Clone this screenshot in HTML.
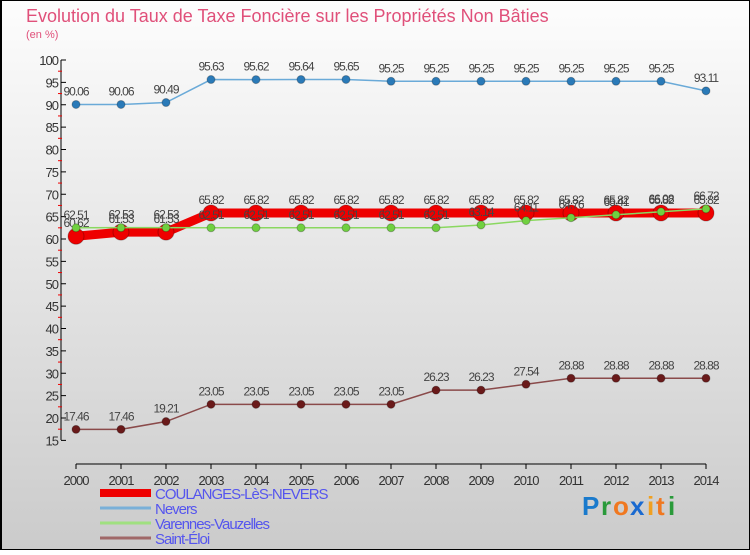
<!DOCTYPE html>
<html><head><meta charset="utf-8"><style>
body{margin:0;width:750px;height:550px;overflow:hidden;font-family:"Liberation Sans",sans-serif}
svg text{font-family:"Liberation Sans",sans-serif}
</style></head><body>
<svg id="c" width="750" height="550" xmlns="http://www.w3.org/2000/svg">
<defs><linearGradient id="bg" x1="0" y1="0" x2="0" y2="1"><stop offset="0" stop-color="#fdfdfd"/><stop offset="1" stop-color="#cbcbcb"/></linearGradient></defs>
<rect x="0.5" y="0.5" width="749" height="549" fill="url(#bg)" stroke="#000" stroke-width="1"/>
<line x1="1" y1="0" x2="1" y2="550" stroke="#000" stroke-width="2"/>
<text x="26" y="22" font-size="18" fill="#e0507a">Evolution du Taux de Taxe Foncière sur les Propriétés Non Bâties</text>
<text x="26" y="38" font-size="11" fill="#e0507a">(en %)</text>
<g id="axes"></g><g id="series"></g><g id="legend"></g>
<g font-size="26" font-weight="bold">
<text x="582" y="515" fill="#1a7acc">P</text><text x="601" y="515" fill="#2a9a3a">r</text><text x="613" y="515" fill="#f07820">o</text><text x="630" y="515" fill="#1a6ad0">x</text><text x="647" y="515" fill="#f0a020">i</text><text x="656" y="515" fill="#f07820">t</text><text x="668" y="515" fill="#2a9a3a">i</text>
</g>
</svg>
<script>
const years=[2000,2001,2002,2003,2004,2005,2006,2007,2008,2009,2010,2011,2012,2013,2014];
const coulanges=[60.62,61.53,61.53,65.82,65.82,65.82,65.82,65.82,65.82,65.82,65.82,65.82,65.82,65.82,65.82];
const nevers=[90.06,90.06,90.49,95.63,95.62,95.64,95.65,95.25,95.25,95.25,95.25,95.25,95.25,95.25,93.11];
const varennes=[62.51,62.53,62.53,62.51,62.51,62.51,62.51,62.51,62.51,63.14,64.11,64.76,65.41,66.08,66.72];
const saintEloi=[17.46,17.46,19.21,23.05,23.05,23.05,23.05,23.05,26.23,26.23,27.54,28.88,28.88,28.88,28.88];
const yTicks=[15,20,25,30,35,40,45,50,55,60,65,70,75,80,85,90,95,100];
const NS="http://www.w3.org/2000/svg";
const X=i=>76+i*45, Y=v=>60+(100-v)*4.475;
function el(p,t,a){const e=document.createElementNS(NS,t);for(const k in a)e.setAttribute(k,a[k]);p.appendChild(e);return e;}
const ax=document.getElementById('axes');
el(ax,'line',{x1:61,y1:60,x2:61,y2:440,stroke:'#000'});
el(ax,'line',{x1:76,y1:464,x2:706,y2:464,stroke:'#000'});
yTicks.forEach(v=>{
 el(ax,'line',{x1:61,y1:Y(v),x2:66,y2:Y(v),stroke:'#000'});
 if(v<100){el(ax,'line',{x1:58,y1:Y(v+2.5),x2:62,y2:Y(v+2.5),stroke:'#e00'});}
 const t=el(ax,'text',{x:58,y:Y(v)+5,'font-size':13,'text-anchor':'end',fill:'#333','letter-spacing':'-1'});t.textContent=v;
 
 
});
years.forEach((y,i)=>{
 el(ax,'line',{x1:X(i),y1:464,x2:X(i),y2:469,stroke:'#000'});
 const t=el(ax,'text',{x:X(i),y:485,'font-size':13,'text-anchor':'middle',fill:'#333','letter-spacing':'-1'});t.textContent=y;
 
 
});
const sg=document.getElementById('series');
function series(name,data,color,mcol,w,r){
 const g=el(sg,'g',{});
 
 
 el(g,'polyline',{points:data.map((v,i)=>X(i)+','+Y(v)).join(' '),fill:'none',stroke:color,'stroke-width':w});
 data.forEach((v,i)=>{
  const c=el(g,'circle',{cx:X(i),cy:Y(v),r:r,fill:mcol,stroke:'rgba(0,0,0,0.25)'});
  
  
  const t=el(g,'text',{x:X(i),y:Y(v)-9,'font-size':12,'text-anchor':'middle',fill:'#444','letter-spacing':'-1'});t.textContent=v.toFixed(2);
  
  
 });
}
series('saint-eloi',saintEloi,'#8a4a4a','#6a1a1a',1.5,4);
series('nevers',nevers,'#6aaad8','#2a7ab8',1.5,4);
series('coulanges',coulanges,'#ee0000','#ee0000',9,8);
series('varennes',varennes,'#8ad860','#70d040',1.5,4);
const lg=document.getElementById('legend');
[['COULANGES-LèS-NEVERS','#ee0000',8],['Nevers','#7ab0d8',3],['Varennes-Vauzelles','#a0e080',3],['Saint-Éloi','#a06868',3]].forEach((d,i)=>{
 const y=493+i*15;
 const g=el(lg,'g',{});
 
 
 el(g,'line',{x1:100,y1:y,x2:151,y2:y,stroke:d[1],'stroke-width':d[2]});
 const t=el(g,'text',{x:155,y:y+6,'font-size':15,fill:'#5555ee','letter-spacing':'-1'});t.textContent=d[0];
});
</script>
</body></html>
